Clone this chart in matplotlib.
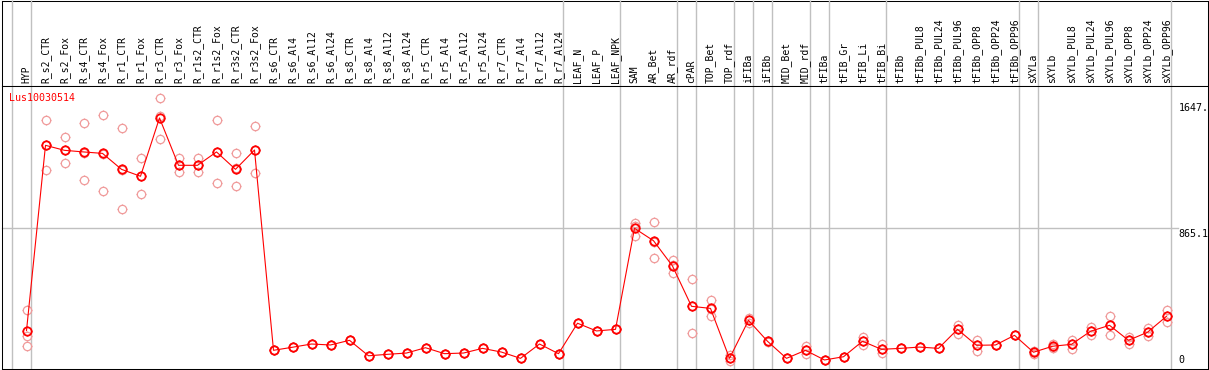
import matplotlib
matplotlib.use("Agg")
import matplotlib.pyplot as plt
from matplotlib.path import Path
from matplotlib.transforms import blended_transform_factory

# ---------------- data ----------------
categories = ["HYP", "R_s2_CTR", "R_s2_Fox", "R_s4_CTR", "R_s4_Fox", "R_r1_CTR", "R_r1_Fox",
              "R_r3_CTR", "R_r3_Fox", "R_r1s2_CTR", "R_r1s2_Fox", "R_r3s2_CTR", "R_r3s2_Fox",
              "R_s6_CTR", "R_s6_Al4", "R_s6_Al12", "R_s6_Al24", "R_s8_CTR", "R_s8_Al4",
              "R_s8_Al12", "R_s8_Al24", "R_r5_CTR", "R_r5_Al4", "R_r5_Al12", "R_r5_Al24",
              "R_r7_CTR", "R_r7_Al4", "R_r7_Al12", "R_r7_Al24", "LEAF_N", "LEAF_P", "LEAF_NPK",
              "SAM", "AR_Bet", "AR_rdf", "cPAR", "TOP_Bet", "TOP_rdf", "iFIBa", "iFIBb",
              "MID_Bet", "MID_rdf", "tFIBa", "tFIB_Gr", "tFIB_Li", "tFIB_Bi", "tFIBb",
              "tFIBb_PUL8", "tFIBb_PUL24", "tFIBb_PUL96", "tFIBb_OPP8", "tFIBb_OPP24",
              "tFIBb_OPP96", "sXYLa", "sXYLb", "sXYLb_PUL8", "sXYLb_PUL24", "sXYLb_PUL96",
              "sXYLb_OPP8", "sXYLb_OPP24", "sXYLb_OPP96"]

means = [230, 1380, 1349, 1339, 1330, 1231, 1188, 1550, 1256, 1256, 1339, 1231, 1351,
         108, 127, 147, 141, 170, 74, 83, 91, 124, 87, 91, 120, 97, 58, 147, 87,
         276, 228, 238, 865, 788, 631, 381, 368, 58, 294, 164, 58, 108, 48, 68, 164, 114,
         120, 128, 120, 238, 139, 141, 201, 96, 133, 145, 226, 263, 170, 220, 319]

replicates = [
    [358, 197, 135], [1535, 1379, 1227], [1430, 1349, 1268], [1517, 1334, 1165],
    [1568, 1326, 1097], [1486, 1224, 983], [1299, 1188, 1076], [1672, 1561, 1417],
    [1299, 1256, 1213], [1299, 1256, 1213], [1535, 1336, 1144], [1330, 1237, 1126],
    [1498, 1348, 1206],
    [108, 108, 108], [127, 127, 127], [147, 147, 147], [141, 141, 141], [170, 170, 170],
    [74, 74, 74], [83, 83, 83], [91, 91, 91], [124, 124, 124], [87, 87, 87], [91, 91, 91],
    [120, 120, 120], [97, 97, 97], [58, 58, 58], [147, 147, 147], [87, 87, 87],
    [276, 276, 276], [228, 228, 228], [238, 238, 238],
    [900, 879, 817], [902, 783, 679], [668, 635, 590], [549, 381, 213], [420, 362, 323],
    [76, 58, 42], [308, 294, 279], [168, 164, 160], [58, 58, 58], [137, 108, 85],
    [48, 48, 48], [68, 68, 68], [192, 164, 139], [147, 114, 89],
    [120, 120, 120], [128, 128, 128], [120, 120, 120], [265, 238, 209], [172, 139, 105],
    [141, 141, 141], [201, 201, 201], [102, 96, 85], [149, 127, 122], [172, 145, 114],
    [254, 226, 201], [321, 263, 201], [192, 170, 145], [245, 220, 197], [358, 319, 282],
]

# group separators: a line after these category indices
group_ends = [-1, 0, 28, 31, 34, 35, 37, 38, 39, 41, 42, 45, 52, 53, 60]

title = "Lus10030514"
gridline_value = 865.1
ytick_values = [1647, 865.1, 0]
ytick_labels = ["1647.", "865.1", "0"]

# ---------------- figure / layout ----------------
W, H = 1209, 370
fig = plt.figure(figsize=(W / 100, H / 100), dpi=100)
fig.patch.set_facecolor("white")

def px_rect(x0, y0, x1, y1):
    return [x0 / W, (H - y1) / H, (x1 - x0) / W, (y1 - y0) / H]

top_px, bot_px, left_px, right_px, head_px = 0.5, 368.5, 1.5, 1207.5, 85.5

hax = fig.add_axes(px_rect(left_px, top_px, right_px, head_px))
hax.set_facecolor("none")
hax.set_xticks([]); hax.set_yticks([])
for s in hax.spines.values():
    s.set_linewidth(0.75); s.set_color("black")

ax = fig.add_axes(px_rect(left_px, head_px, right_px, bot_px))
ax.set_facecolor("white")
for s in ax.spines.values():
    s.set_linewidth(0.75); s.set_color("black")
ax.set_xticks([]); ax.set_yticks([])

x0p, dxp = 26.5, 19.0
ax.set_xlim((left_px - x0p) / dxp, (right_px - x0p) / dxp)
ypx0, yscale = 367.7, 0.16114
ax.set_ylim((ypx0 - bot_px) / yscale, (ypx0 - head_px) / yscale)

grey = "#c0c0c0"
red = "#ff0000"
pink = "#f09a9a"

bt = blended_transform_factory(ax.transData, ax.transAxes)
ax_h = bot_px - head_px
ytop_ax = (bot_px - 0.0) / ax_h

for g in group_ends:
    xv = g + 4.2 / dxp
    ax.plot([xv, xv], [0, ytop_ax], transform=bt, color=grey, lw=1.0,
            clip_on=False, zorder=1, solid_capstyle="butt")

ax.plot([ax.get_xlim()[0], (1178 - x0p) / dxp], [gridline_value, gridline_value],
        color=grey, lw=1.0, zorder=1, clip_on=False)

# small outward ticks around each circle marker
tverts, tcodes = [], []
for dx, dy in [(1, 0), (-1, 0), (0, 1), (0, -1)]:
    tverts += [(dx * 1.0, dy * 1.0), (dx * 1.3, dy * 1.3)]
    tcodes += [Path.MOVETO, Path.LINETO]
tick_mk = Path(tverts, tcodes)

circ_ms = 6.0
tick_ms = circ_ms * 1.3

xs = list(range(len(categories)))
for i, reps in enumerate(replicates):
    xr = [i] * len(reps)
    ax.plot(xr, reps, linestyle="none", marker="o", markersize=circ_ms,
            markerfacecolor="none", markeredgecolor=pink, markeredgewidth=0.9, zorder=3)
    ax.plot(xr, reps, linestyle="none", marker=tick_mk, markersize=tick_ms,
            markeredgecolor=pink, markeredgewidth=0.8, zorder=3)

ax.plot(xs, means, color=red, lw=0.8, zorder=4)
ax.plot(xs, means, linestyle="none", marker="o", markersize=circ_ms,
        markerfacecolor="none", markeredgecolor=red, markeredgewidth=1.3, zorder=5)
ax.plot(xs, means, linestyle="none", marker=tick_mk, markersize=tick_ms,
        markeredgecolor=red, markeredgewidth=1.0, zorder=5)

mono = "DejaVu Sans Mono"
lab_y = (bot_px - 82.7) / ax_h
for i, c in enumerate(categories):
    ax.text(i, lab_y, c, transform=bt, rotation=90, ha="center", va="bottom",
            fontsize=7.0, family=mono, color="black", clip_on=False)

ax.text((9.3 - left_px) / (right_px - left_px), (bot_px - 93.3) / ax_h, title,
        transform=ax.transAxes, ha="left", va="top", fontsize=7.2, family=mono,
        color=red)

lx = (1178.3 - x0p) / dxp
for v, t in zip(ytick_values, ytick_labels):
    if v == 0:
        ax.text(lx, (bot_px - 365.3) / ax_h, t, transform=bt, ha="left",
                va="bottom", fontsize=7.2, family=mono, clip_on=False)
    else:
        ax.text(lx, v - 1.0 / yscale, t, ha="left", va="top", fontsize=7.2,
                family=mono, clip_on=False)

fig.savefig("out.png", dpi=100, facecolor="white")
